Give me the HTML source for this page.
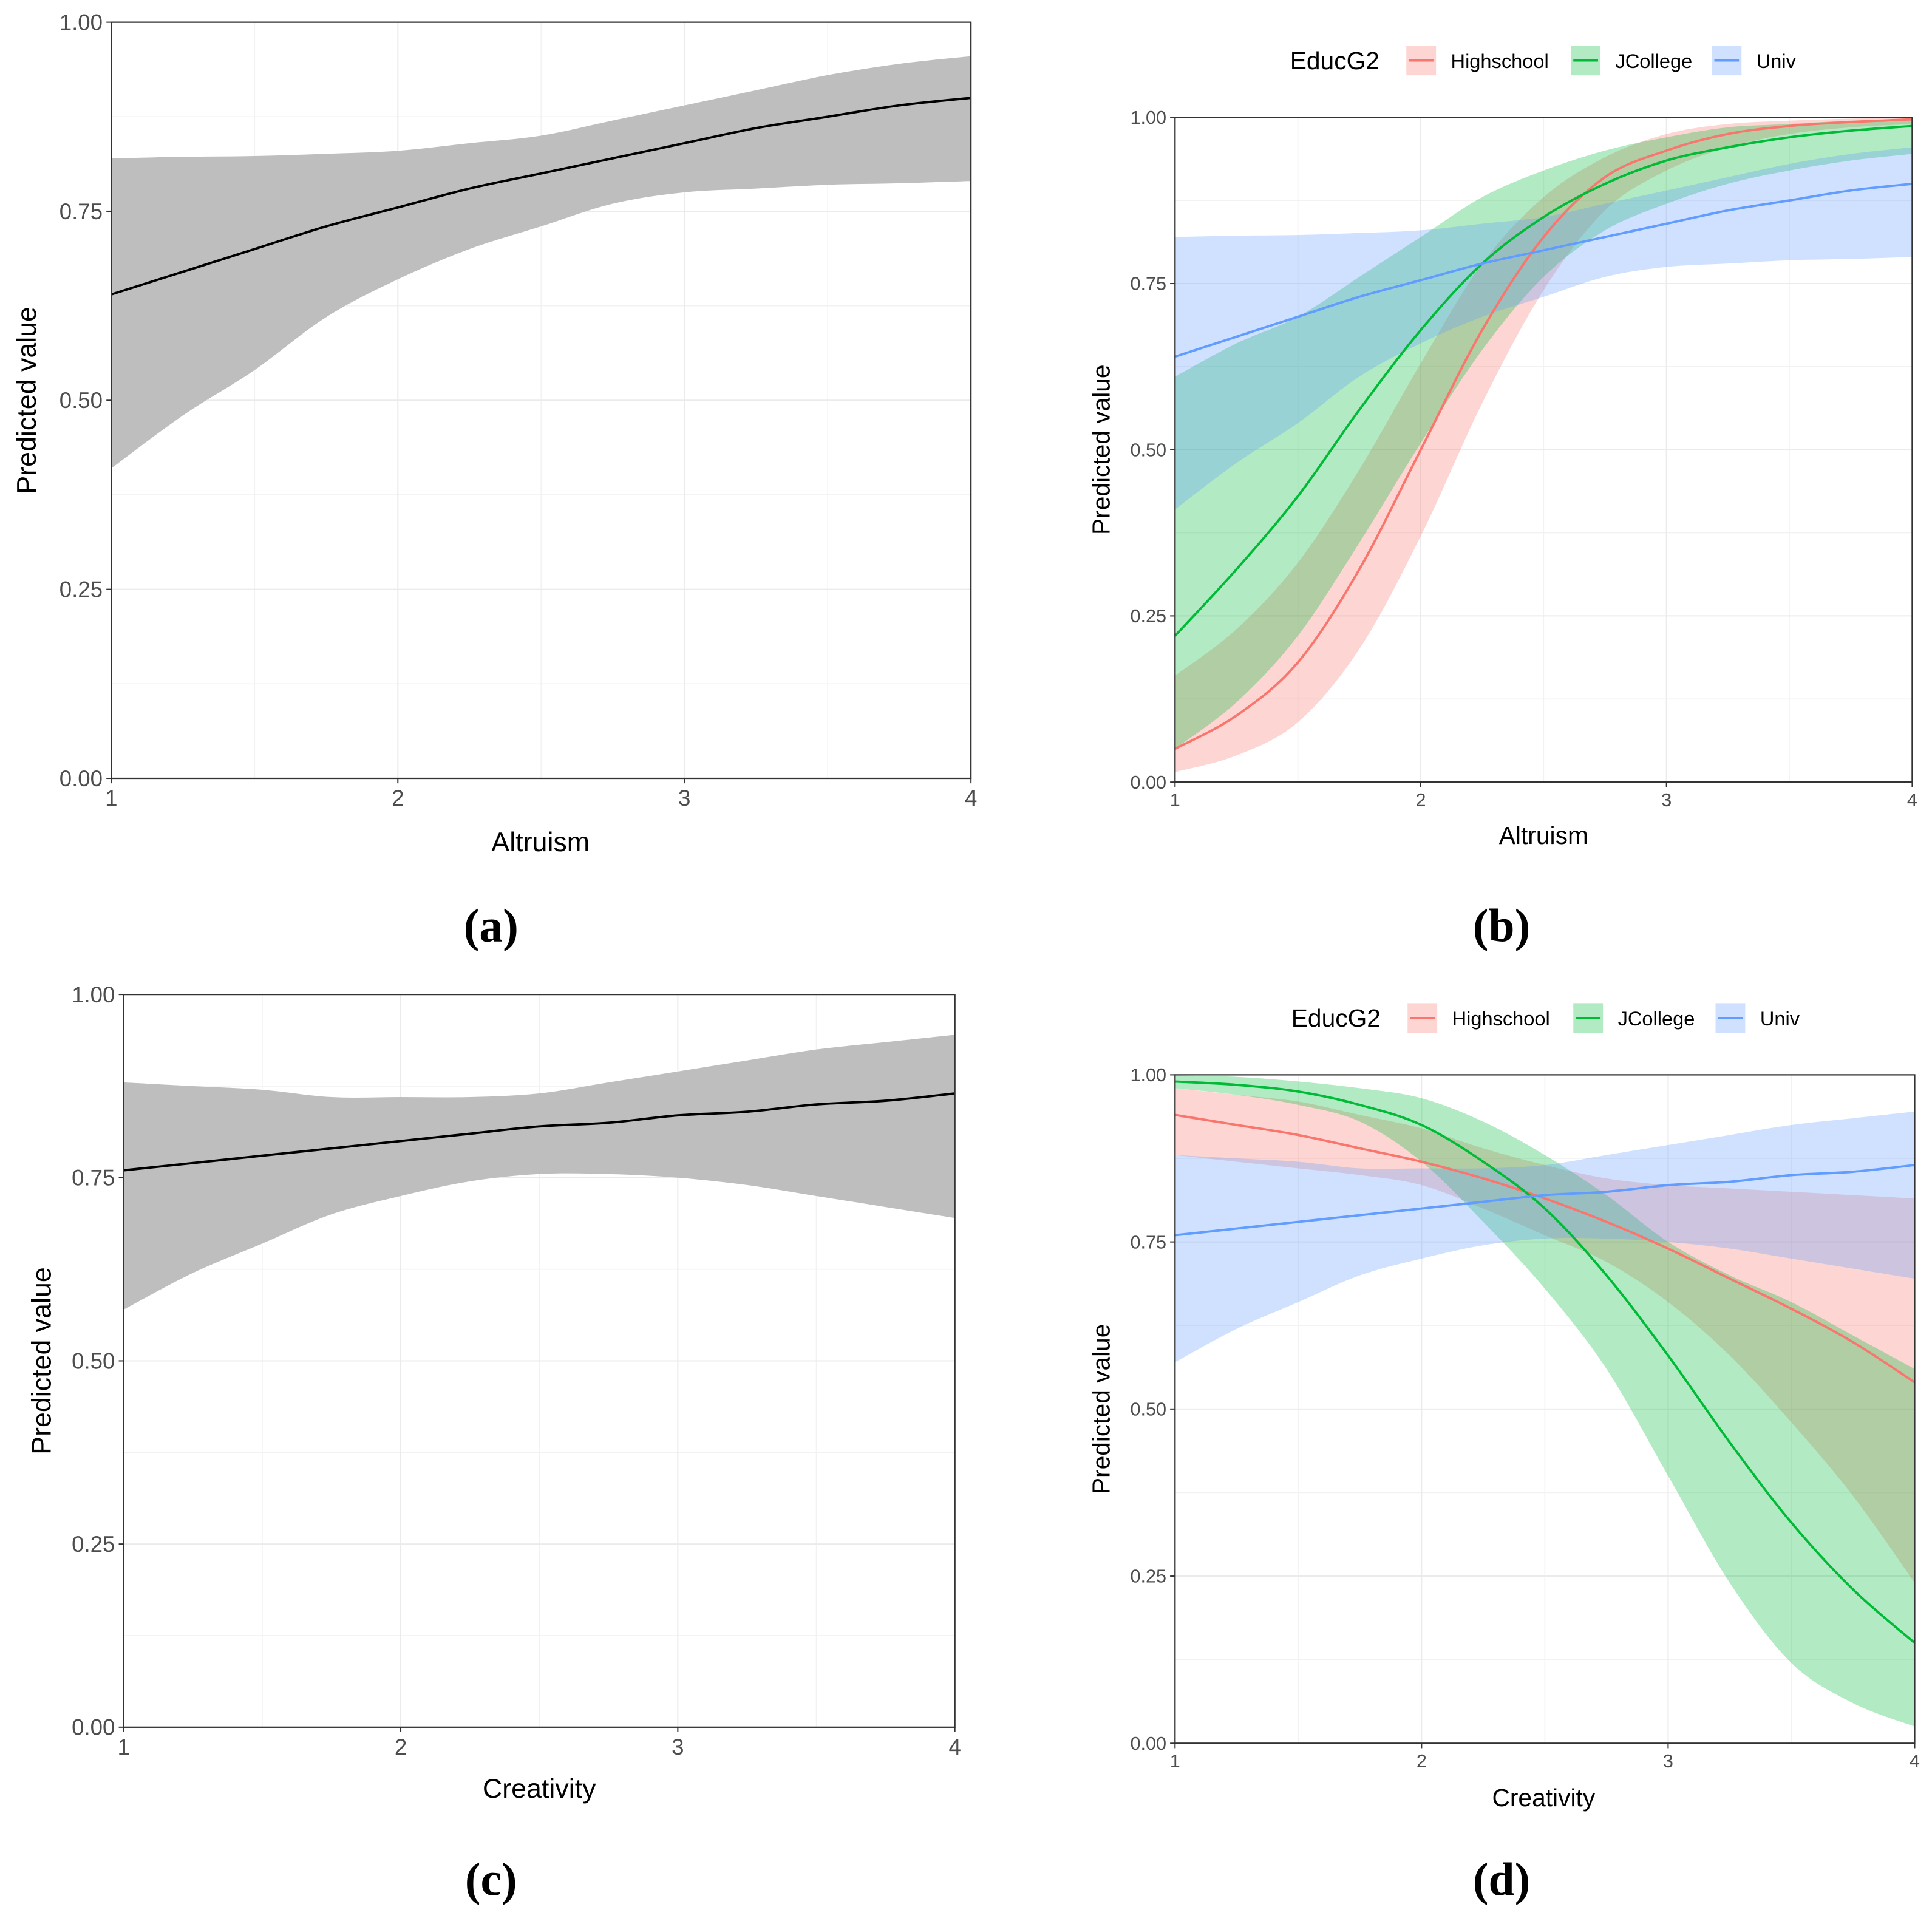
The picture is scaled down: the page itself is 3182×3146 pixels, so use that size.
<!DOCTYPE html>
<html><head><meta charset="utf-8"><style>
html,body{margin:0;padding:0;background:#fff}
svg{display:block}
text{font-family:"Liberation Sans",sans-serif}
</style></head><body>
<svg id="fig" xmlns="http://www.w3.org/2000/svg" width="3182" height="3146" viewBox="0 0 1562 1546" preserveAspectRatio="none"></svg>
<script>
const xs = [1,1.25,1.5,1.75,2,2.25,2.5,2.75,3,3.25,3.5,3.75,4];
const yTicks = [0,0.25,0.5,0.75,1];
const yTickLabels = ["0.00","0.25","0.50","0.75","1.00"];
const xTicks = [1,2,3,4];
const groups = ["Highschool","JCollege","Univ"];
// Panel a: Altruism overall
const aFit = [0.64,0.67,0.70,0.73,0.755,0.78,0.80,0.82,0.84,0.86,0.875,0.89,0.90];
const aLo  = [0.41,0.48,0.54,0.61,0.66,0.70,0.73,0.76,0.775,0.78,0.785,0.787,0.79];
const aHi  = [0.82,0.822,0.823,0.826,0.83,0.84,0.85,0.87,0.89,0.91,0.93,0.945,0.955];
// Panel b: Altruism by EducG2
const bHsFit = [0.05,0.10,0.18,0.32,0.50,0.68,0.82,0.91,0.95,0.975,0.987,0.993,0.997];
const bHsLo  = [0.015,0.04,0.09,0.20,0.37,0.57,0.74,0.86,0.92,0.955,0.975,0.985,0.99];
const bHsHi  = [0.16,0.23,0.33,0.47,0.63,0.78,0.88,0.94,0.975,0.99,0.995,0.998,0.999];
const bJcFit = [0.22,0.32,0.43,0.56,0.68,0.78,0.85,0.90,0.935,0.955,0.97,0.98,0.987];
const bJcLo  = [0.05,0.12,0.22,0.36,0.51,0.65,0.76,0.83,0.87,0.90,0.92,0.935,0.945];
const bJcHi  = [0.61,0.66,0.70,0.76,0.82,0.88,0.92,0.95,0.97,0.985,0.99,0.995,0.997];
const bUnFit = [0.64,0.67,0.70,0.73,0.755,0.78,0.80,0.82,0.84,0.86,0.875,0.89,0.90];
const bUnLo  = [0.41,0.48,0.54,0.61,0.66,0.70,0.73,0.76,0.775,0.78,0.785,0.787,0.79];
const bUnHi  = [0.82,0.822,0.823,0.826,0.83,0.84,0.85,0.87,0.89,0.91,0.93,0.945,0.955];
// Panel c: Creativity overall
const cFit = [0.76,0.77,0.78,0.79,0.80,0.81,0.82,0.825,0.835,0.84,0.85,0.855,0.865];
const cLo  = [0.57,0.62,0.66,0.70,0.725,0.745,0.755,0.755,0.75,0.74,0.725,0.71,0.695];
const cHi  = [0.88,0.875,0.87,0.86,0.86,0.86,0.865,0.88,0.895,0.91,0.925,0.935,0.945];
// Panel d: Creativity by EducG2
const dHsFit = [0.94,0.925,0.91,0.89,0.87,0.845,0.815,0.78,0.74,0.695,0.65,0.60,0.54];
const dHsLo  = [0.88,0.87,0.86,0.85,0.835,0.80,0.76,0.72,0.66,0.58,0.48,0.37,0.24];
const dHsHi  = [0.98,0.97,0.96,0.94,0.92,0.89,0.865,0.845,0.835,0.83,0.825,0.82,0.815];
const dJcFit = [0.99,0.985,0.975,0.955,0.925,0.87,0.80,0.70,0.58,0.45,0.33,0.23,0.15];
const dJcLo  = [0.98,0.97,0.955,0.93,0.87,0.78,0.68,0.56,0.40,0.24,0.12,0.06,0.025];
const dJcHi  = [0.999,0.997,0.99,0.98,0.965,0.93,0.88,0.82,0.75,0.70,0.66,0.61,0.56];
const dUnFit = [0.76,0.77,0.78,0.79,0.80,0.81,0.82,0.825,0.835,0.84,0.85,0.855,0.865];
const dUnLo  = [0.57,0.62,0.66,0.70,0.725,0.745,0.755,0.755,0.75,0.74,0.725,0.71,0.695];
const dUnHi  = [0.88,0.875,0.87,0.86,0.86,0.86,0.865,0.88,0.895,0.91,0.925,0.935,0.945];

const NS = "http://www.w3.org/2000/svg";
const svg = document.getElementById("fig");
function mk(tag, attrs, parent, txt){
  const e = document.createElementNS(NS, tag);
  for (const k in attrs) e.setAttribute(k, attrs[k]);
  if (txt !== undefined) e.textContent = txt;
  (parent||svg).appendChild(e);
  return e;
}
// smooth catmull-rom segments through points (pts array of [x,y]), continuing an existing path
function smooth(pts){
  let d = "";
  for (let i=0;i<pts.length-1;i++){
    const p0=pts[Math.max(i-1,0)], p1=pts[i], p2=pts[i+1], p3=pts[Math.min(i+2,pts.length-1)];
    const c1=[p1[0]+(p2[0]-p0[0])/6, p1[1]+(p2[1]-p0[1])/6];
    const c2=[p2[0]-(p3[0]-p1[0])/6, p2[1]-(p3[1]-p1[1])/6];
    d += "C"+c1.join(",")+" "+c2.join(",")+" "+p2.join(",");
  }
  return d;
}
const COLORS = {Highschool:"#F8766D", JCollege:"#00BA38", Univ:"#619CFF"};

function panel(p){
  const g = mk("g", {});
  
  
  const X = v => p.x0 + (v-1)/3*(p.x1-p.x0);
  const Y = v => p.y1 - v*(p.y1-p.y0);
  for (let v=0.125; v<1; v+=0.25){ const l=mk("line",{x1:p.x0,x2:p.x1,y1:Y(v),y2:Y(v),stroke:"#f2f2f2","stroke-width":0.8},g);   }
  for (let v=1.5; v<4; v+=1){ const l=mk("line",{x1:X(v),x2:X(v),y1:p.y0,y2:p.y1,stroke:"#f2f2f2","stroke-width":0.8},g);   }
  yTicks.forEach(v=>{ const l=mk("line",{x1:p.x0,x2:p.x1,y1:Y(v),y2:Y(v),stroke:"#ebebeb","stroke-width":1},g);   });
  xTicks.forEach(v=>{ const l=mk("line",{x1:X(v),x2:X(v),y1:p.y0,y2:p.y1,stroke:"#ebebeb","stroke-width":1},g);   });
  p.series.forEach(s=>{
    const top = xs.map((x,i)=>[X(x),Y(s.hi[i])]);
    const bot = xs.map((x,i)=>[X(x),Y(s.lo[i])]).reverse();
    const d = "M"+top[0].join(",")+smooth(top)+"L"+bot[0].join(",")+smooth(bot)+"Z";
    const r = mk("path",{d:d,fill:s.fill,"fill-opacity":s.op,stroke:"none"},g);
    
    
  });
  p.series.forEach(s=>{
    const pts = xs.map((x,i)=>[X(x),Y(s.fit[i])]);
    const d = "M"+pts[0].join(",")+smooth(pts);
    const l = mk("path",{d:d,fill:"none",stroke:s.line,"stroke-width":1.9},g);
    
    
  });
  const fr = mk("rect",{x:p.x0,y:p.y0,width:p.x1-p.x0,height:p.y1-p.y0,fill:"none",stroke:"#333","stroke-width":1.1},g);
  
  
  yTicks.forEach((v,i)=>{
    mk("line",{x1:p.x0-4,x2:p.x0,y1:Y(v),y2:Y(v),stroke:"#333","stroke-width":1},g);
    const t = mk("text",{x:p.x0-7,y:Y(v)+p.fs*0.35,"text-anchor":"end","font-size":p.fs,fill:"#4d4d4d"},g,yTickLabels[i]);
    
    
  });
  xTicks.forEach(v=>{
    mk("line",{x1:X(v),x2:X(v),y1:p.y1,y2:p.y1+4,stroke:"#333","stroke-width":1},g);
    const t = mk("text",{x:X(v),y:p.y1+6+p.fs*0.9,"text-anchor":"middle","font-size":p.fs,fill:"#4d4d4d"},g,String(v));
    
    
  });
  const xt = mk("text",{x:p.xtx,y:p.xty,"text-anchor":"middle","font-size":p.tfs,fill:"#000"},g,p.xtitle);
  
  
  const yt = mk("text",{x:0,y:0,"text-anchor":"middle","font-size":p.tfs,fill:"#000",transform:"translate("+p.ytx+","+((p.y0+p.y1)/2)+") rotate(-90)"},g,"Predicted value");
  
  
  const cap = mk("text",{x:p.capx,y:p.capy,"text-anchor":"middle","font-size":38,"font-weight":"bold",style:"font-family:'Liberation Serif',serif",fill:"#000"},g,p.cap);
  
  
  if (p.legend){
    const lg = mk("g",{},g);
    
    
    const lt = mk("text",{x:p.legend.tx,y:p.legend.y+7,"font-size":20,fill:"#000"},lg,"EducG2");
    
    
    groups.forEach((gname,i)=>{
      const kx = p.legend.kx[i];
      const kr = mk("rect",{x:kx,y:p.legend.y-12,width:24,height:24,fill:COLORS[gname],"fill-opacity":0.3},lg);
      
      
      mk("line",{x1:kx+2,x2:kx+22,y1:p.legend.y,y2:p.legend.y,stroke:COLORS[gname],"stroke-width":1.8},lg);
      const tl = mk("text",{x:kx+36,y:p.legend.y+6,"font-size":16,fill:"#000"},lg,gname);
      
      
    });
  }
}
const grp = (key,fit,lo,hi)=>({key:key.toLowerCase(),fit,lo,hi,fill:COLORS[key],op:0.3,line:COLORS[key]});
panel({name:"panel-a",x0:90,x1:785,y0:18,y1:630,fs:18,tfs:22,xtitle:"Altruism",xtx:437,xty:689,ytx:29,cap:"(a)",capx:397,capy:762,
  series:[{key:"overall",fit:aFit,lo:aLo,hi:aHi,fill:"#bebebe",op:1,line:"#000"}]});
panel({name:"panel-b",x0:950,x1:1546,y0:95,y1:633,fs:15,tfs:20,xtitle:"Altruism",xtx:1248,xty:683,ytx:897,cap:"(b)",capx:1214,capy:762,
  legend:{tx:1043,y:49,kx:[1137,1270,1384]},
  series:[grp("Highschool",bHsFit,bHsLo,bHsHi),grp("JCollege",bJcFit,bJcLo,bJcHi),grp("Univ",bUnFit,bUnLo,bUnHi)]});
panel({name:"panel-c",x0:100,x1:772,y0:805,y1:1398,fs:18,tfs:22,xtitle:"Creativity",xtx:436,xty:1455,ytx:41,cap:"(c)",capx:397,capy:1534,
  series:[{key:"overall",fit:cFit,lo:cLo,hi:cHi,fill:"#bebebe",op:1,line:"#000"}]});
panel({name:"panel-d",x0:950,x1:1548,y0:870,y1:1411,fs:15,tfs:20,xtitle:"Creativity",xtx:1248,xty:1462,ytx:897,cap:"(d)",capx:1214,capy:1534,
  legend:{tx:1044,y:824,kx:[1138,1272,1387]},
  series:[grp("Highschool",dHsFit,dHsLo,dHsHi),grp("JCollege",dJcFit,dJcLo,dJcHi),grp("Univ",dUnFit,dUnLo,dUnHi)]});
</script>
</body></html>
